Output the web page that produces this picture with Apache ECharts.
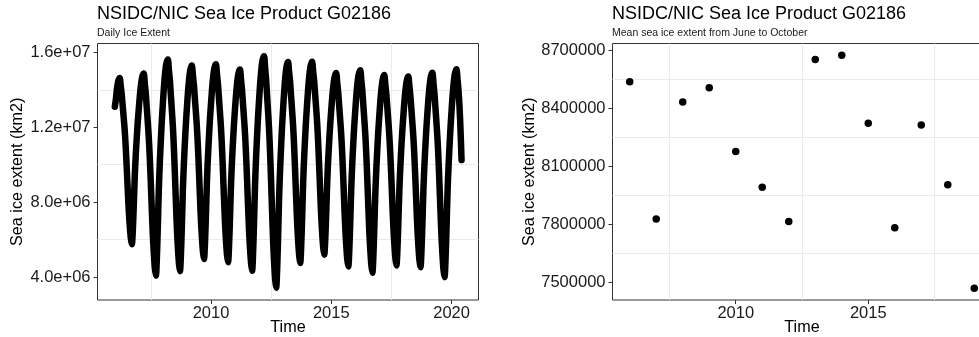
<!DOCTYPE html>
<html><head><meta charset="utf-8">
<script src="https://cdn.jsdelivr.net/npm/echarts@6/dist/echarts.min.js"></script>
<style>html,body{margin:0;padding:0;background:#fff}#c{width:979px;height:337px}</style>
</head><body><div id="c"></div>
<script>
// ---------- DATA ----------
// Left panel: ice extent (million km2), sampled on these days of each year
const sampleDays = ['01-01','01-16','02-01','02-16','03-01','03-16','04-01','04-16','05-01','05-16','06-01','06-16','07-01','07-16','08-01','08-16','09-01','09-16','10-01','10-16','11-01','11-16','12-01','12-16'];
const ext2006 = [13.10,13.46,14.01,14.37,14.55,14.64,14.20,13.75,13.13,12.51,11.80,10.91,9.84,8.68,7.53,6.73,6.06,5.75,6.48,7.85,9.49,10.59,11.50,12.32];
const ext2007 = [13.05,13.69,14.24,14.61,14.79,14.88,14.34,13.80,13.04,12.29,11.42,10.34,9.04,7.64,6.23,5.26,4.45,4.07,5.00,6.73,8.81,10.20,11.35,12.39];
const ext2008 = [13.32,14.13,14.82,15.28,15.51,15.63,15.06,14.50,13.71,12.91,12.01,10.88,9.52,8.05,6.57,5.56,4.71,4.31,5.19,6.84,8.82,10.13,11.23,12.22];
const ext2009 = [13.10,13.87,14.53,14.97,15.19,15.30,14.78,14.27,13.54,12.82,11.99,10.96,9.72,8.37,7.03,6.10,5.32,4.96,5.79,7.35,9.23,10.48,11.52,12.46];
const ext2010 = [13.29,14.02,14.64,15.06,15.27,15.37,14.84,14.31,13.57,12.83,11.98,10.93,9.66,8.28,6.91,5.95,5.16,4.79,5.61,7.16,9.01,10.25,11.28,12.21];
const ext2011 = [13.03,13.75,14.37,14.78,14.99,15.09,14.55,14.01,13.26,12.51,11.65,10.57,9.28,7.88,6.48,5.51,4.71,4.33,5.25,6.97,9.03,10.41,11.56,12.59];
const ext2012 = [13.51,14.31,15.00,15.46,15.69,15.80,15.18,14.56,13.70,12.83,11.84,10.60,9.11,7.51,5.90,4.78,3.85,3.42,4.39,6.20,8.37,9.82,11.02,12.11];
const ext2013 = [13.08,13.92,14.65,15.13,15.37,15.49,14.95,14.42,13.66,12.91,12.05,10.98,9.69,8.29,6.90,5.93,5.13,4.75,5.61,7.22,9.16,10.45,11.52,12.49];
const ext2014 = [13.35,14.10,14.75,15.18,15.39,15.50,14.98,14.47,13.75,13.03,12.20,11.17,9.93,8.59,7.25,6.32,5.55,5.19,5.97,7.42,9.17,10.34,11.31,12.18];
const ext2015 = [12.96,13.64,14.22,14.61,14.80,14.90,14.38,13.87,13.14,12.42,11.59,10.56,9.32,7.97,6.63,5.70,4.92,4.56,5.40,6.97,8.86,10.12,11.17,12.11];
const ext2016 = [12.95,13.69,14.32,14.74,14.94,15.05,14.51,13.97,13.21,12.45,11.59,10.51,9.21,7.80,6.39,5.42,4.61,4.23,5.08,6.66,8.56,9.83,10.89,11.84];
const ext2017 = [12.69,13.43,14.06,14.48,14.69,14.80,14.29,13.78,13.07,12.36,11.54,10.52,9.30,7.98,6.66,5.74,4.98,4.62,5.43,6.94,8.76,9.97,10.98,11.88];
const ext2018 = [12.69,13.40,14.00,14.41,14.61,14.71,14.20,13.69,12.98,12.26,11.45,10.43,9.21,7.88,6.56,5.64,4.88,4.52,5.35,6.91,8.78,10.03,11.07,12.01];
const ext2019 = [12.84,13.57,14.19,14.61,14.82,14.92,14.37,13.83,13.06,12.30,11.42,10.33,9.02,7.60,6.18,5.19,4.37,3.99,4.88,6.55,8.55,9.88,10.99,11.99];
const ext2020 = [12.88,13.66,14.32,14.77,14.99,15.10,14.55,13.95,13.10,11.90,10.25];
const extentByYear = {2006:ext2006,2007:ext2007,2008:ext2008,2009:ext2009,2010:ext2010,2011:ext2011,2012:ext2012,2013:ext2013,2014:ext2014,2015:ext2015,2016:ext2016,2017:ext2017,2018:ext2018,2019:ext2019,2020:ext2020};

// Right panel: mean extent June-October (km2)
const meanYears = [2006,2007,2008,2009,2010,2011,2012,2013,2014,2015,2016,2017,2018,2019];
const meanExtent = [8537000,7827000,8432000,8506000,8176000,7992000,7815000,8652000,8674000,8322000,7782000,8313000,8004000,7469000];

// Ticks
const leftXTicks = [2010, 2015, 2020];
const leftXMinor = [2007.5, 2012.5, 2017.5];
const leftYTicks = [4e6, 8e6, 12e6, 16e6];
const leftYTickLabels = ['4.0e+06', '8.0e+06', '1.2e+07', '1.6e+07'];
const leftYMinor = [6e6, 10e6, 14e6];
const rightXTicks = [2010, 2015, 2020];
const rightXMinor = [2007.5, 2012.5, 2017.5];
const rightYTicks = [7500000, 7800000, 8100000, 8400000, 8700000];
const rightYMinor = [7650000, 7950000, 8250000, 8550000];

// ---------- BUILD ----------
function decYear(year, md) {
  const t = Date.UTC(year, +md.slice(0,2) - 1, +md.slice(3,5));
  const t0 = Date.UTC(year, 0, 1), t1 = Date.UTC(year + 1, 0, 1);
  return year + (t - t0) / (t1 - t0);
}
const dailyData = [];
Object.keys(extentByYear).forEach(function (y) {
  extentByYear[y].forEach(function (v, i) { dailyData.push([decYear(+y, sampleDays[i]), v * 1e6]); });
});
const meanData = meanYears.map((y, i) => [y, meanExtent[i]]);

const FONT = '"Liberation Sans", Arial, sans-serif';
const TICK_C = '#333333';
const LABEL_C = '#1a1a1a';
const GRID_C = '#ebebeb';

function mainAxis(grid, min, max, ticks, extra) {
  return Object.assign({
    gridIndex: grid, type: 'value', min: min, max: max,
    axisLine: { show: false },
    axisTick: { show: true, length: 4, customValues: ticks, lineStyle: { color: TICK_C, width: 1 } },
    splitLine: { show: false },
    nameLocation: 'middle',
    nameTextStyle: { fontSize: 16.2, color: '#000', fontFamily: FONT }
  }, extra);
}
function minorAxis(grid, min, max, ticks) {
  return {
    gridIndex: grid, type: 'value', min: min, max: max,
    axisLine: { show: false },
    axisTick: { show: false, customValues: ticks },
    axisLabel: { show: false, customValues: ticks },
    splitLine: { show: true, lineStyle: { color: GRID_C, width: 1 } }
  };
}
function lbl(ticks, fmt, margin) {
  return { customValues: ticks, formatter: fmt, fontSize: 16.5, color: LABEL_C, fontFamily: FONT, margin: margin };
}

const LX = [2005.28, 2021.12], LY = [2.77e6, 16.48e6];
const RX = [2005.35, 2019.65], RY = [7408740, 8734460];

const option = {
  animation: false,
  backgroundColor: '#ffffff',
  title: [
    { text: 'NSIDC/NIC Sea Ice Product G02186', left: 97, top: 5, padding: 0, textStyle: { fontSize: 18, fontWeight: 'normal', color: '#000', fontFamily: FONT } },
    { text: 'Daily Ice Extent', left: 97, top: 28, padding: 0, textStyle: { fontSize: 10.5, fontWeight: 'normal', color: '#1a1a1a', fontFamily: FONT } },
    { text: 'NSIDC/NIC Sea Ice Product G02186', left: 612, top: 5, padding: 0, textStyle: { fontSize: 18, fontWeight: 'normal', color: '#000', fontFamily: FONT } },
    { text: 'Mean sea ice extent from June to October', left: 612, top: 28, padding: 0, textStyle: { fontSize: 10.5, fontWeight: 'normal', color: '#1a1a1a', fontFamily: FONT } }
  ],
  grid: [
    { left: 97.5, top: 43.5, width: 381, height: 256.5, show: true, borderColor: '#333333', borderWidth: 1, backgroundColor: 'transparent', containLabel: false, outerBoundsMode: 'none' },
    { left: 612.5, top: 43.5, width: 379, height: 256.5, show: true, borderColor: '#333333', borderWidth: 1, backgroundColor: 'transparent', containLabel: false, outerBoundsMode: 'none' }
  ],
  xAxis: [
    mainAxis(0, LX[0], LX[1], leftXTicks, { name: 'Time', nameGap: 20, nameMoveOverlap: false, axisLabel: lbl(leftXTicks, v => String(Math.round(v)), 5) }),
    minorAxis(0, LX[0], LX[1], leftXMinor),
    mainAxis(1, RX[0], RX[1], rightXTicks, { name: 'Time', nameGap: 20, nameMoveOverlap: false, axisLabel: lbl(rightXTicks, v => String(Math.round(v)), 5) }),
    minorAxis(1, RX[0], RX[1], rightXMinor)
  ],
  yAxis: [
    mainAxis(0, LY[0], LY[1], leftYTicks, { name: 'Sea ice extent (km2)', nameGap: 72, axisLabel: lbl(leftYTicks, v => leftYTickLabels[leftYTicks.indexOf(v)] || '', 7) }),
    minorAxis(0, LY[0], LY[1], leftYMinor),
    mainAxis(1, RY[0], RY[1], rightYTicks, { name: 'Sea ice extent (km2)', nameGap: 75, axisLabel: lbl(rightYTicks, v => String(Math.round(v)), 7) }),
    minorAxis(1, RY[0], RY[1], rightYMinor)
  ],
  series: [
    {
      type: 'line', xAxisIndex: 0, yAxisIndex: 0, data: dailyData,
      showSymbol: false, smooth: 0.3,
      lineStyle: { color: '#000000', width: 6.5, cap: 'round', join: 'round' },
      z: 3
    },
    {
      type: 'scatter', xAxisIndex: 2, yAxisIndex: 2, data: meanData,
      symbol: 'circle', symbolSize: 7.5,
      itemStyle: { color: '#000000', opacity: 1 }, z: 3
    }
  ]
};
const chart = echarts.init(document.getElementById('c'), null, { renderer: 'canvas' });
chart.setOption(option);
</script></body></html>
